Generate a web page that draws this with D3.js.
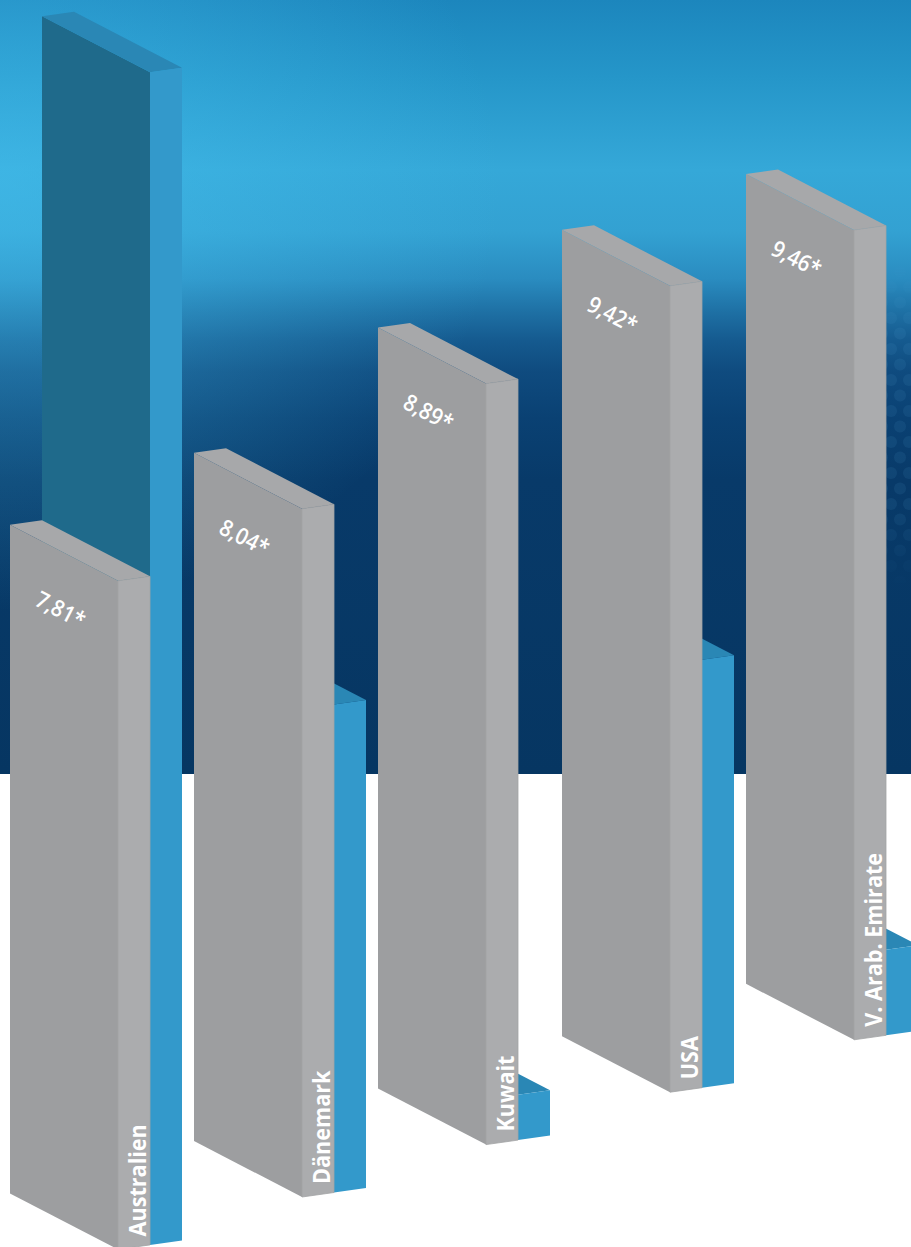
<!DOCTYPE html>
<html>
<head>
<meta charset="utf-8">
<script src="https://cdnjs.cloudflare.com/ajax/libs/d3/7.8.5/d3.min.js"></script>
<style>
  html, body { margin: 0; padding: 0; background: #ffffff; }
  svg { display: block; }
</style>
</head>
<body>
<script>
// ---- data ----
const categories = ["Australien", "Dänemark", "Kuwait", "USA", "V. Arab. Emirate"];
const footprint = [7.81, 8.04, 8.89, 9.42, 9.46];          // grey bars (front row)
const footprintLabels = ["7,81*", "8,04*", "8,89*", "9,42*", "9,46*"];
const biocapacity = [13.7, 5.7, 0.53, 5.0, 1.0];          // blue bars (back row)

// ---- layout ----
const W = 911, H = 1247;
const svg = d3.select("body").append("svg").attr("width", W).attr("height", H);
const defs = svg.append("defs");

// background gradient
const bg = defs.append("linearGradient").attr("id", "bg").attr("x1", 0).attr("y1", 0).attr("x2", 0).attr("y2", 1);
[[0, "#1c86bd"], [0.1, "#2596c9"], [0.22, "#35a8d8"], [0.3, "#33a1d2"], [0.36, "#2a8cc0"],
 [0.4, "#1f72a6"], [0.44, "#155a8f"], [0.48, "#0f4b7f"], [0.54, "#0a4173"], [0.62, "#083a69"], [1, "#063662"]]
  .forEach(([o, c]) => bg.append("stop").attr("offset", o).attr("stop-color", c));

const glow = defs.append("radialGradient").attr("id", "glow")
  .attr("cx", 0).attr("cy", 0.24).attr("r", 0.55).attr("fx", 0).attr("fy", 0.24);
glow.append("stop").attr("offset", 0).attr("stop-color", "#45c0ee").attr("stop-opacity", 0.55);
glow.append("stop").attr("offset", 1).attr("stop-color", "#45c0ee").attr("stop-opacity", 0);

const pat = defs.append("pattern").attr("id", "dots").attr("patternUnits", "userSpaceOnUse")
  .attr("width", 18).attr("height", 31);
pat.append("circle").attr("cx", 9).attr("cy", 8).attr("r", 6).attr("fill", "#5aa8d8");
pat.append("circle").attr("cx", 0).attr("cy", 23.5).attr("r", 6).attr("fill", "#5aa8d8");
pat.append("circle").attr("cx", 18).attr("cy", 23.5).attr("r", 6).attr("fill", "#5aa8d8");
const fadeMask = defs.append("linearGradient").attr("id", "fadeG").attr("x1", 0).attr("y1", 0).attr("x2", 0).attr("y2", 1);
[[0, 0], [0.25, 1], [0.75, 1], [1, 0]].forEach(([o, a]) =>
  fadeMask.append("stop").attr("offset", o).attr("stop-color", "#fff").attr("stop-opacity", a));
const mask = defs.append("mask").attr("id", "fade");
mask.append("rect").attr("x", 860).attr("y", 250).attr("width", 60).attr("height", 340).attr("fill", "url(#fadeG)");

const skyH = 774;
svg.append("rect").attr("x", 0).attr("y", 0).attr("width", W).attr("height", skyH).attr("fill", "url(#bg)");
svg.append("rect").attr("x", 0).attr("y", 0).attr("width", W).attr("height", skyH).attr("fill", "url(#glow)");
svg.append("rect").attr("x", 860).attr("y", 250).attr("width", 60).attr("height", 340)
  .attr("fill", "url(#dots)").attr("opacity", 0.1).attr("mask", "url(#fade)");

// ---- scales / projection ----
const xBase = d3.scalePoint().domain(categories).range([10, 746]);       // front-left x of each grey bar
const yGround = d3.scaleLinear().domain([10, 746]).range([1193.4, 983.8]); // ground line (bottom-left y)
const hScale = d3.scaleLinear().domain([0, 10]).range([0, 856]);          // value -> pixel height
const FACE = [108, 56];   // front face width vector
const DEPTH = [32, -4.5]; // depth vector (also offset of back row)

const add = (p, v, k = 1) => [p[0] + v[0] * k, p[1] + v[1] * k];
const poly = pts => "M" + pts.map(p => p.join(",")).join("L") + "Z";

function boxFaces(base, height) {
  const top = [base[0], base[1] - height];
  const bR = add(base, FACE), tR = add(top, FACE);
  return {
    front: poly([base, bR, tR, top]),
    side: poly([bR, add(bR, DEPTH), add(tR, DEPTH), tR]),
    top: poly([top, tR, add(tR, DEPTH), add(top, DEPTH)]),
    topLeft: top
  };
}

const data = categories.map((c, i) => {
  const x = xBase(c);
  const gBase = [x, yGround(x)];
  return {
    cat: c, g: footprint[i], b: biocapacity[i], label: footprintLabels[i],
    gBase, bBase: add(gBase, DEPTH)
  };
});

const groups = svg.selectAll("g.cat").data(data).join("g").attr("class", "cat");

// blue (back) bars
groups.each(function (d) {
  const f = boxFaces(d.bBase, hScale(d.b));
  const g = d3.select(this);
  g.append("path").attr("d", f.front).attr("fill", "#1f6a8b");
  g.append("path").attr("d", f.top).attr("fill", "#2a87b5");
  g.append("path").attr("d", f.side).attr("fill", "#3399cb");
});

// grey (front) bars
groups.each(function (d) {
  const f = boxFaces(d.gBase, hScale(d.g));
  d.gTop = f.topLeft;
  const g = d3.select(this);
  g.append("path").attr("d", f.front).attr("fill", "#9d9ea0");
  g.append("path").attr("d", f.top).attr("fill", "#a7a8aa");
  g.append("path").attr("d", f.side).attr("fill", "#abacae");
  g.append("path").attr("d", f.side).attr("fill", "none").attr("stroke", "#a2a3a5").attr("stroke-width", 0.8);
});

const angle = Math.atan2(FACE[1], FACE[0]) * 180 / Math.PI;

// value labels on front faces
groups.append("text")
  .attr("transform", d => {
    const p = add(d.gTop, [51, 84]);
    return `translate(${p[0]},${p[1]}) rotate(${angle}) scale(0.9,1)`;
  })
  .attr("text-anchor", "middle")
  .attr("dominant-baseline", "central")
  .attr("font-family", "'Open Sans', 'Noto Sans', sans-serif")
  .attr("font-weight", 600)
  .attr("font-size", 23)
  .attr("fill", "#ffffff")
  .text(d => d.label);

// category labels on side faces
groups.append("text")
  .attr("transform", d => {
    const bR = add(d.gBase, FACE);
    return `translate(${bR[0] + 27.5},${bR[1] - 13}) rotate(-90) scale(0.9,1)`;
  })
  .attr("text-anchor", "start")
  .attr("font-family", "'Open Sans', 'Noto Sans', sans-serif")
  .attr("font-weight", 700)
  .attr("font-size", 24)
  .attr("fill", "#ffffff")
  .text(d => d.cat);
</script>
</body>
</html>
